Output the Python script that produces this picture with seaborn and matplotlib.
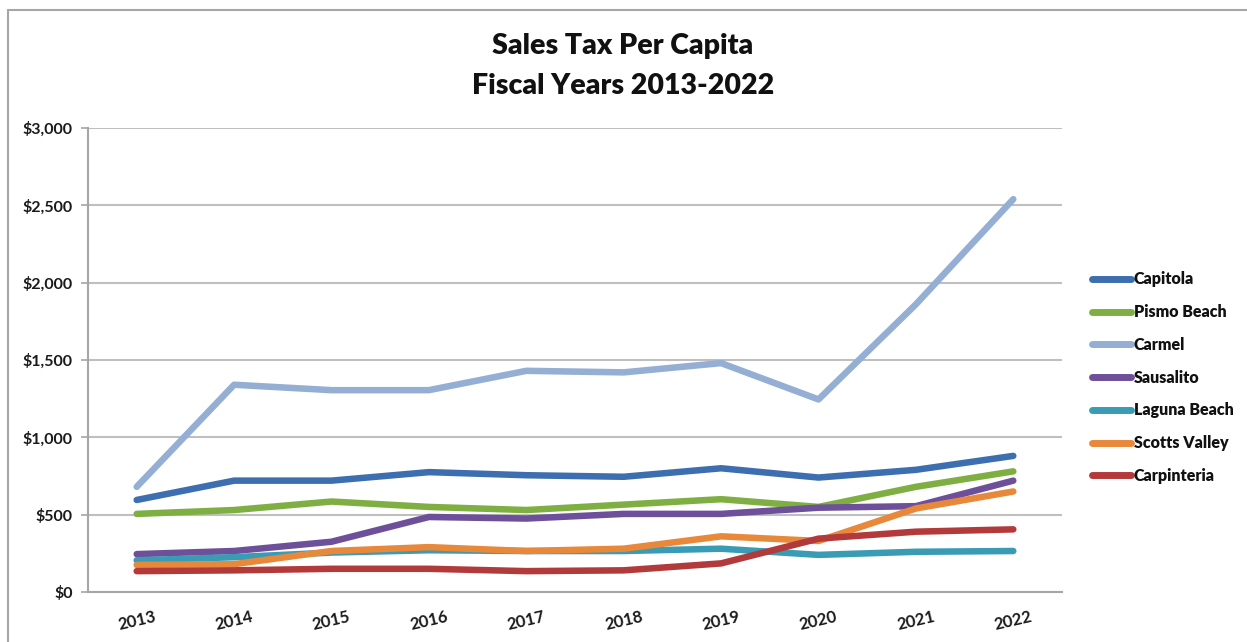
import matplotlib
matplotlib.use("Agg")
import matplotlib.pyplot as plt
import matplotlib.transforms as mtransforms
from matplotlib.lines import Line2D
import seaborn as sns
import pandas as pd

# Fiscal years and per-capita sales tax by city
years = ["2013", "2014", "2015", "2016", "2017", "2018", "2019", "2020", "2021", "2022"]
capitola = [595, 720, 720, 775, 755, 745, 800, 740, 790, 880]
pismo_beach = [505, 530, 585, 550, 530, 565, 600, 550, 680, 780]
carmel = [680, 1340, 1305, 1305, 1430, 1420, 1480, 1245, 1860, 2540]
sausalito = [245, 265, 325, 485, 475, 505, 505, 545, 555, 720]
laguna_beach = [205, 225, 255, 270, 265, 265, 280, 240, 260, 265]
scotts_valley = [175, 180, 265, 290, 265, 280, 360, 330, 540, 650]
carpinteria = [135, 140, 150, 150, 135, 140, 185, 345, 390, 405]

cities = ["Capitola", "Pismo Beach", "Carmel", "Sausalito",
          "Laguna Beach", "Scotts Valley", "Carpinteria"]
series = [capitola, pismo_beach, carmel, sausalito,
          laguna_beach, scotts_valley, carpinteria]
colors = ["#3D6FB0", "#7FAF42", "#94AED4", "#6E509A",
          "#3A9BB5", "#E8883A", "#B33A3A"]
y_ticks = [0, 500, 1000, 1500, 2000, 2500, 3000]
y_labels = ["$0", "$500", "$1,000", "$1,500", "$2,000", "$2,500", "$3,000"]

rows = []
for city, vals in zip(cities, series):
    for i, (yr, v) in enumerate(zip(years, vals)):
        rows.append({"idx": i, "Year": yr, "City": city, "Value": v})
df = pd.DataFrame(rows)

sns.set_theme(style="white")
plt.rcParams["font.family"] = ["Lato", "DejaVu Sans"]

W, H = 1247, 642
fig = plt.figure(figsize=(W / 100, H / 100), dpi=100)
ax = fig.add_axes([88 / W, 1 - 592 / H, (1062 - 88) / W, (592 - 128) / H])

sns.lineplot(data=df, x="idx", y="Value", hue="City", hue_order=cities,
             palette=colors, linewidth=4.7, ax=ax, legend=False,
             solid_capstyle="round", solid_joinstyle="round")

ax.set_xlim(-0.5, len(years) - 0.5)
ax.set_ylim(0, 3000)
ax.set_yticks(y_ticks)
ax.set_yticklabels(y_labels, fontsize=11.5, fontweight="bold", color="#1a1a1a")
ax.set_xticks(range(len(years)))
ax.set_xticklabels(years, fontsize=12, fontweight="bold", color="#1a1a1a",
                   rotation=13, ha="center")
shift = mtransforms.ScaledTranslation(-14 / 100, 0, fig.dpi_scale_trans)
for lbl in ax.get_xticklabels():
    lbl.set_transform(lbl.get_transform() + shift)
ax.tick_params(axis="x", length=0, pad=12)
ax.tick_params(axis="y", length=5, width=1.2, color="#A6A6A6", direction="out",
               left=True, pad=6)
ax.set_xlabel("")
ax.set_ylabel("")
ax.yaxis.grid(True, color="#BFBFBF", linewidth=1.5)
ax.set_axisbelow(True)
for side in ["top", "right"]:
    ax.spines[side].set_visible(False)
for side in ["left", "bottom"]:
    ax.spines[side].set_color("#A6A6A6")
    ax.spines[side].set_linewidth(1.5)

# Title
fig.text(623 / W, 1 - 46 / H, "Sales Tax Per Capita",
         ha="center", va="center", fontsize=20.5, fontweight="heavy", color="#111111")
fig.text(623 / W, 1 - 86 / H, "Fiscal Years 2013-2022",
         ha="center", va="center", fontsize=20.5, fontweight="heavy", color="#111111")

# Legend
handles = [Line2D([0], [0], color=c, linewidth=5, solid_capstyle="round")
           for c in colors]
leg = fig.legend(handles, cities, loc="upper left",
                 bbox_to_anchor=(1078 / W, 1 - 257 / H), frameon=False,
                 handlelength=2.4, handletextpad=0.2, labelspacing=1.05,
                 prop={"weight": "heavy", "size": 11.5})
for t in leg.get_texts():
    t.set_color("#111111")

# Outer frame (left and top edges)
fig.add_artist(Line2D([8 / W, 8 / W], [0, 1 - 10 / H], transform=fig.transFigure,
                      color="#A6A6A6", linewidth=1.5))
fig.add_artist(Line2D([8 / W, 1], [1 - 10 / H, 1 - 10 / H], transform=fig.transFigure,
                      color="#A6A6A6", linewidth=1.5))

fig.savefig("out.png", dpi=100, facecolor="white")
